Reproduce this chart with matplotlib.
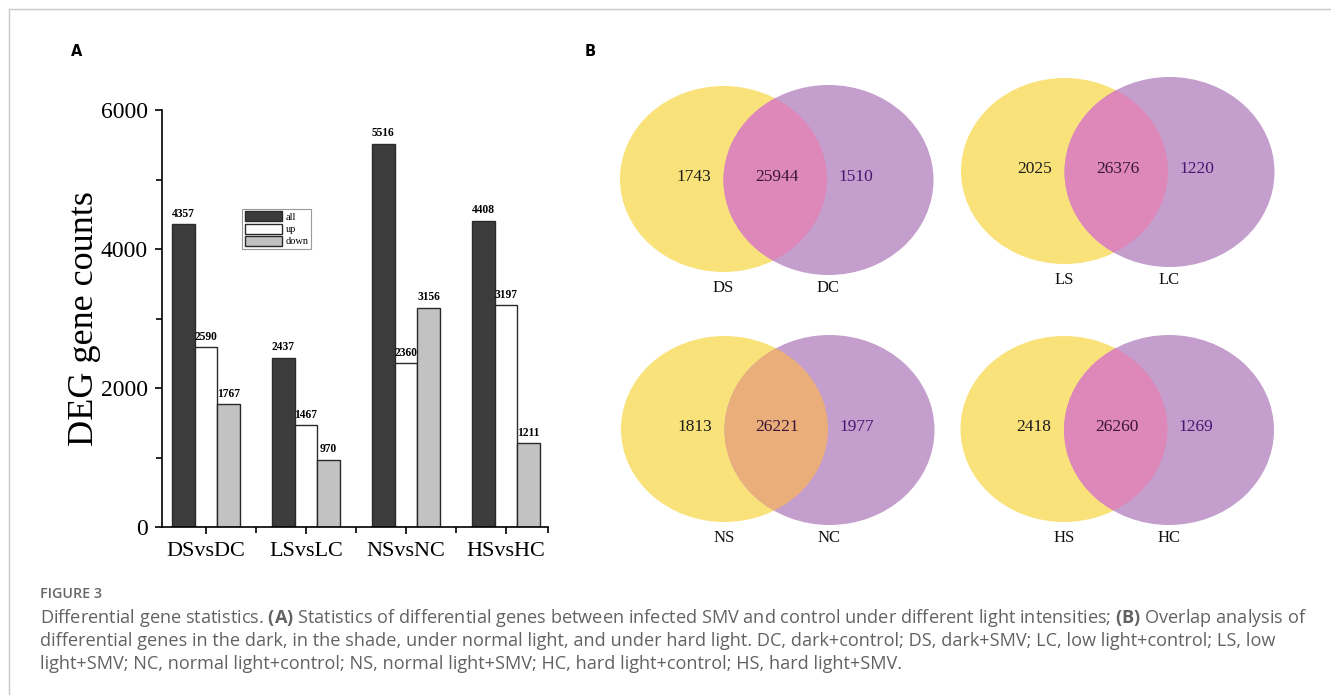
import matplotlib
matplotlib.use("Agg")
import matplotlib.pyplot as plt
import numpy as np
from matplotlib.patches import Ellipse
from matplotlib.lines import Line2D

# ---- panel A data ----
groups = ["DSvsDC", "LSvsLC", "NSvsNC", "HSvsHC"]
deg_all = [4357, 2437, 5516, 4408]
deg_up = [2590, 1467, 2360, 3197]
deg_down = [1767, 970, 3156, 1211]

# ---- panel B data ----
venn_names = [("DS", "DC"), ("LS", "LC"), ("NS", "NC"), ("HS", "HC")]
venn_left = [1743, 2025, 1813, 2418]
venn_both = [25944, 26376, 26221, 26260]
venn_right = [1510, 1220, 1977, 1269]

caption_lines = [
    r"Differential gene statistics. $\mathbf{(A)}$ Statistics of differential genes between infected SMV and control under different light intensities; $\mathbf{(B)}$ Overlap analysis of",
    "differential genes in the dark, in the shade, under normal light, and under hard light. DC, dark+control; DS, dark+SMV; LC, low light+control; LS, low",
    "light+SMV; NC, normal light+control; NS, normal light+SMV; HC, hard light+control; HS, hard light+SMV.",
]

plt.rcParams['mathtext.fontset'] = 'custom'
plt.rcParams['mathtext.rm'] = 'Open Sans'
plt.rcParams['mathtext.bf'] = 'Open Sans:bold'

W, H = 1331, 695
fig = plt.figure(figsize=(W / 100, H / 100), dpi=100)
serif = "Liberation Serif"

# page border lines (top and left)
fig.add_artist(Line2D([9 / W, 1], [1 - 9 / H, 1 - 9 / H], color="#c8c8c8", lw=1))
fig.add_artist(Line2D([9 / W, 9 / W], [0, 1 - 9 / H], color="#c8c8c8", lw=1))

fig.text(77 / W, 1 - 52 / H, "A", fontsize=10.5, fontweight="bold", ha="center", va="center", family="DejaVu Sans")
fig.text(590 / W, 1 - 52 / H, "B", fontsize=10.5, fontweight="bold", ha="center", va="center", family="DejaVu Sans")

# ---- panel A: grouped bars ----
ax = fig.add_axes([162 / W, 1 - 527 / H, 386 / W, 417 / H])
x = np.arange(len(groups))
bw = 0.227
series = [(deg_all, "#3c3c3c", "all"), (deg_up, "white", "up"), (deg_down, "#c2c2c2", "down")]
for k, (vals, col, lab) in enumerate(series):
    bars = ax.bar(x + (k - 1) * bw, vals, bw, color=col, edgecolor="#2a2a2a", linewidth=1.0, label=lab)
    for b, v in zip(bars, vals):
        ax.text(b.get_x() + b.get_width() / 2, v + 60, str(v), ha="center", va="bottom",
                fontsize=8.3, fontweight="bold", family=serif)

ax.set_xlim(-0.44, 3.42)
ax.set_ylim(0, 6000)
ax.spines["top"].set_visible(False)
ax.spines["right"].set_visible(False)
for s in ("left", "bottom"):
    ax.spines[s].set_linewidth(1.2)
ax.set_yticks([0, 2000, 4000, 6000])
ax.set_yticks([1000, 3000, 5000], minor=True)
ax.set_xticks(x)
ax.set_xticks([0.5, 1.5, 2.5, 3.42], minor=True)
ax.set_xticklabels(groups, fontsize=16, family=serif)
for t in ax.get_yticklabels():
    t.set_fontsize(17)
    t.set_family(serif)
ax.tick_params(axis="both", which="major", length=5, width=1.2, pad=5)
ax.tick_params(axis="both", which="minor", length=4, width=1.2)
ax.tick_params(axis="x", pad=6)
ax.set_ylabel("DEG gene counts", fontsize=26, family=serif, va="center")
ax.yaxis.set_label_coords(-0.2, 0.5)

leg = ax.legend(loc="upper left", bbox_to_anchor=(0.207, 0.763), borderaxespad=0,
                prop={"family": serif, "size": 7.5}, handlelength=3.6, handleheight=1.1,
                labelspacing=0.15, handletextpad=0.35, borderpad=0.25, fancybox=False,
                framealpha=1, edgecolor="#9a9a9a")
leg.get_frame().set_linewidth(0.8)

# ---- panel B: four Venn diagrams ----
axb = fig.add_axes([0, 0, 1, 1], zorder=-1)
axb.set_xlim(0, W)
axb.set_ylim(H, 0)
axb.axis("off")

yellow, purple = "#fae27a", "#c49ecd"
overlap_cols = ["#de88b9", "#de88b9", "#eaae7a", "#de88b9"]
origins = [(723.5, 179), (1064.5, 171), (724.5, 429), (1064, 429)]
dx = 105
for i, (cx, cy) in enumerate(origins):
    e1 = Ellipse((cx, cy), 207, 186, facecolor=yellow, edgecolor="none")
    e2 = Ellipse((cx + dx, cy + 1), 210, 190, facecolor=purple, edgecolor="none")
    e3 = Ellipse((cx + dx, cy + 1), 210, 190, facecolor=overlap_cols[i], edgecolor="none")
    axb.add_patch(e1)
    axb.add_patch(e2)
    axb.add_patch(e3)
    e3.set_clip_path(e1)
    axb.text(cx - 30, cy - 2, str(venn_left[i]), ha="center", va="center", fontsize=12.5, family=serif, color="#1c1c1c")
    axb.text(cx + 53, cy - 2, str(venn_both[i]), ha="center", va="center", fontsize=12.5, family=serif, color="#3a1634")
    axb.text(cx + 132, cy - 2, str(venn_right[i]), ha="center", va="center", fontsize=12.5, family=serif, color="#4a1670")
    axb.text(cx, cy + 109, venn_names[i][0], ha="center", va="center", fontsize=12, family=serif, color="#111111")
    axb.text(cx + dx, cy + 109, venn_names[i][1], ha="center", va="center", fontsize=12, family=serif, color="#111111")

# ---- caption ----
fig.text(40 / W, 1 - 594 / H, "FIGURE 3", fontsize=10.3, fontweight="semibold", color="#666666",
         family="Open Sans", va="center")
for j, line in enumerate(caption_lines):
    fig.text(40 / W, 1 - (618 + 23 * j) / H, line, fontsize=13.05, color="#626262",
             family="Open Sans", va="center")

fig.savefig("out.png", dpi=100)
